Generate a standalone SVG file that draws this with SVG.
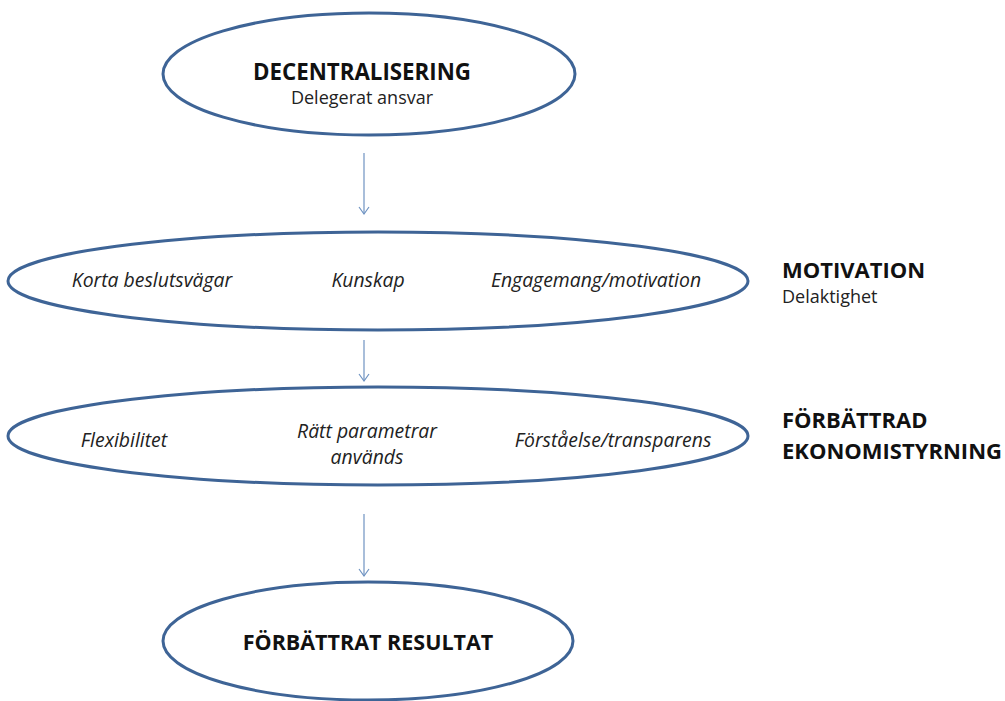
<svg xmlns="http://www.w3.org/2000/svg" width="1005" height="701" viewBox="0 0 1005 701">
<defs>
<style>
.node{fill:#ffffff;stroke:#3e6496;stroke-width:3}
.bold{font-family:"Open Sans","Liberation Sans",sans-serif;font-weight:bold;fill:#111}
.reg{font-family:"Open Sans","Liberation Sans",sans-serif;fill:#222}
.it{font-family:"Open Sans","Liberation Sans",sans-serif;font-style:italic;fill:#222;font-size:19.4px}
.conn{stroke:#6f93c2;stroke-width:1.2;fill:none}
</style>
<marker id="arr" markerWidth="12" markerHeight="12" refX="9" refY="6" orient="auto" markerUnits="userSpaceOnUse" viewBox="0 0 12 12">
<path d="M2,1 L9,6 L2,11" fill="none" stroke="#6f93c2" stroke-width="1.2"/>
</marker>
</defs>
<rect width="1005" height="701" fill="#ffffff"/>
<g id="connectors">
<line class="conn" x1="364" y1="153" x2="364" y2="214" marker-end="url(#arr)"/>
<line class="conn" x1="364" y1="340" x2="364" y2="381" marker-end="url(#arr)"/>
<line class="conn" x1="364" y1="514" x2="364" y2="576" marker-end="url(#arr)"/>
</g>
<g id="decentralisering">
<ellipse class="node" cx="369" cy="74" rx="206" ry="61"/>
<text class="bold" x="362" y="80" font-size="22.3" text-anchor="middle">DECENTRALISERING</text>
<text class="reg" x="362" y="104" font-size="18" text-anchor="middle">Delegerat ansvar</text>
</g>
<g id="motivation">
<ellipse class="node" cx="378" cy="281" rx="370" ry="49"/>
<text class="it" x="152" y="287" text-anchor="middle">Korta beslutsvägar</text>
<text class="it" x="368" y="287" text-anchor="middle">Kunskap</text>
<text class="it" x="596" y="287" text-anchor="middle">Engagemang/motivation</text>
</g>
<g id="motivation-label">
<text class="bold" x="782" y="278" font-size="22">MOTIVATION</text>
<text class="reg" x="782" y="303" font-size="18">Delaktighet</text>
</g>
<g id="ekonomistyrning">
<ellipse class="node" cx="378" cy="436" rx="370" ry="49"/>
<text class="it" x="124" y="447" text-anchor="middle">Flexibilitet</text>
<text class="it" x="367" y="438" text-anchor="middle">Rätt parametrar</text>
<text class="it" x="367" y="464" text-anchor="middle">används</text>
<text class="it" x="613" y="447" text-anchor="middle">Förståelse/transparens</text>
</g>
<g id="ekonomistyrning-label">
<text class="bold" x="782" y="428" font-size="22">FÖRBÄTTRAD</text>
<text class="bold" x="782" y="459" font-size="22">EKONOMISTYRNING</text>
</g>
<g id="resultat">
<ellipse class="node" cx="368" cy="641" rx="205" ry="59"/>
<text class="bold" x="368" y="650" font-size="21.5" text-anchor="middle">FÖRBÄTTRAT RESULTAT</text>
</g>
</svg>
